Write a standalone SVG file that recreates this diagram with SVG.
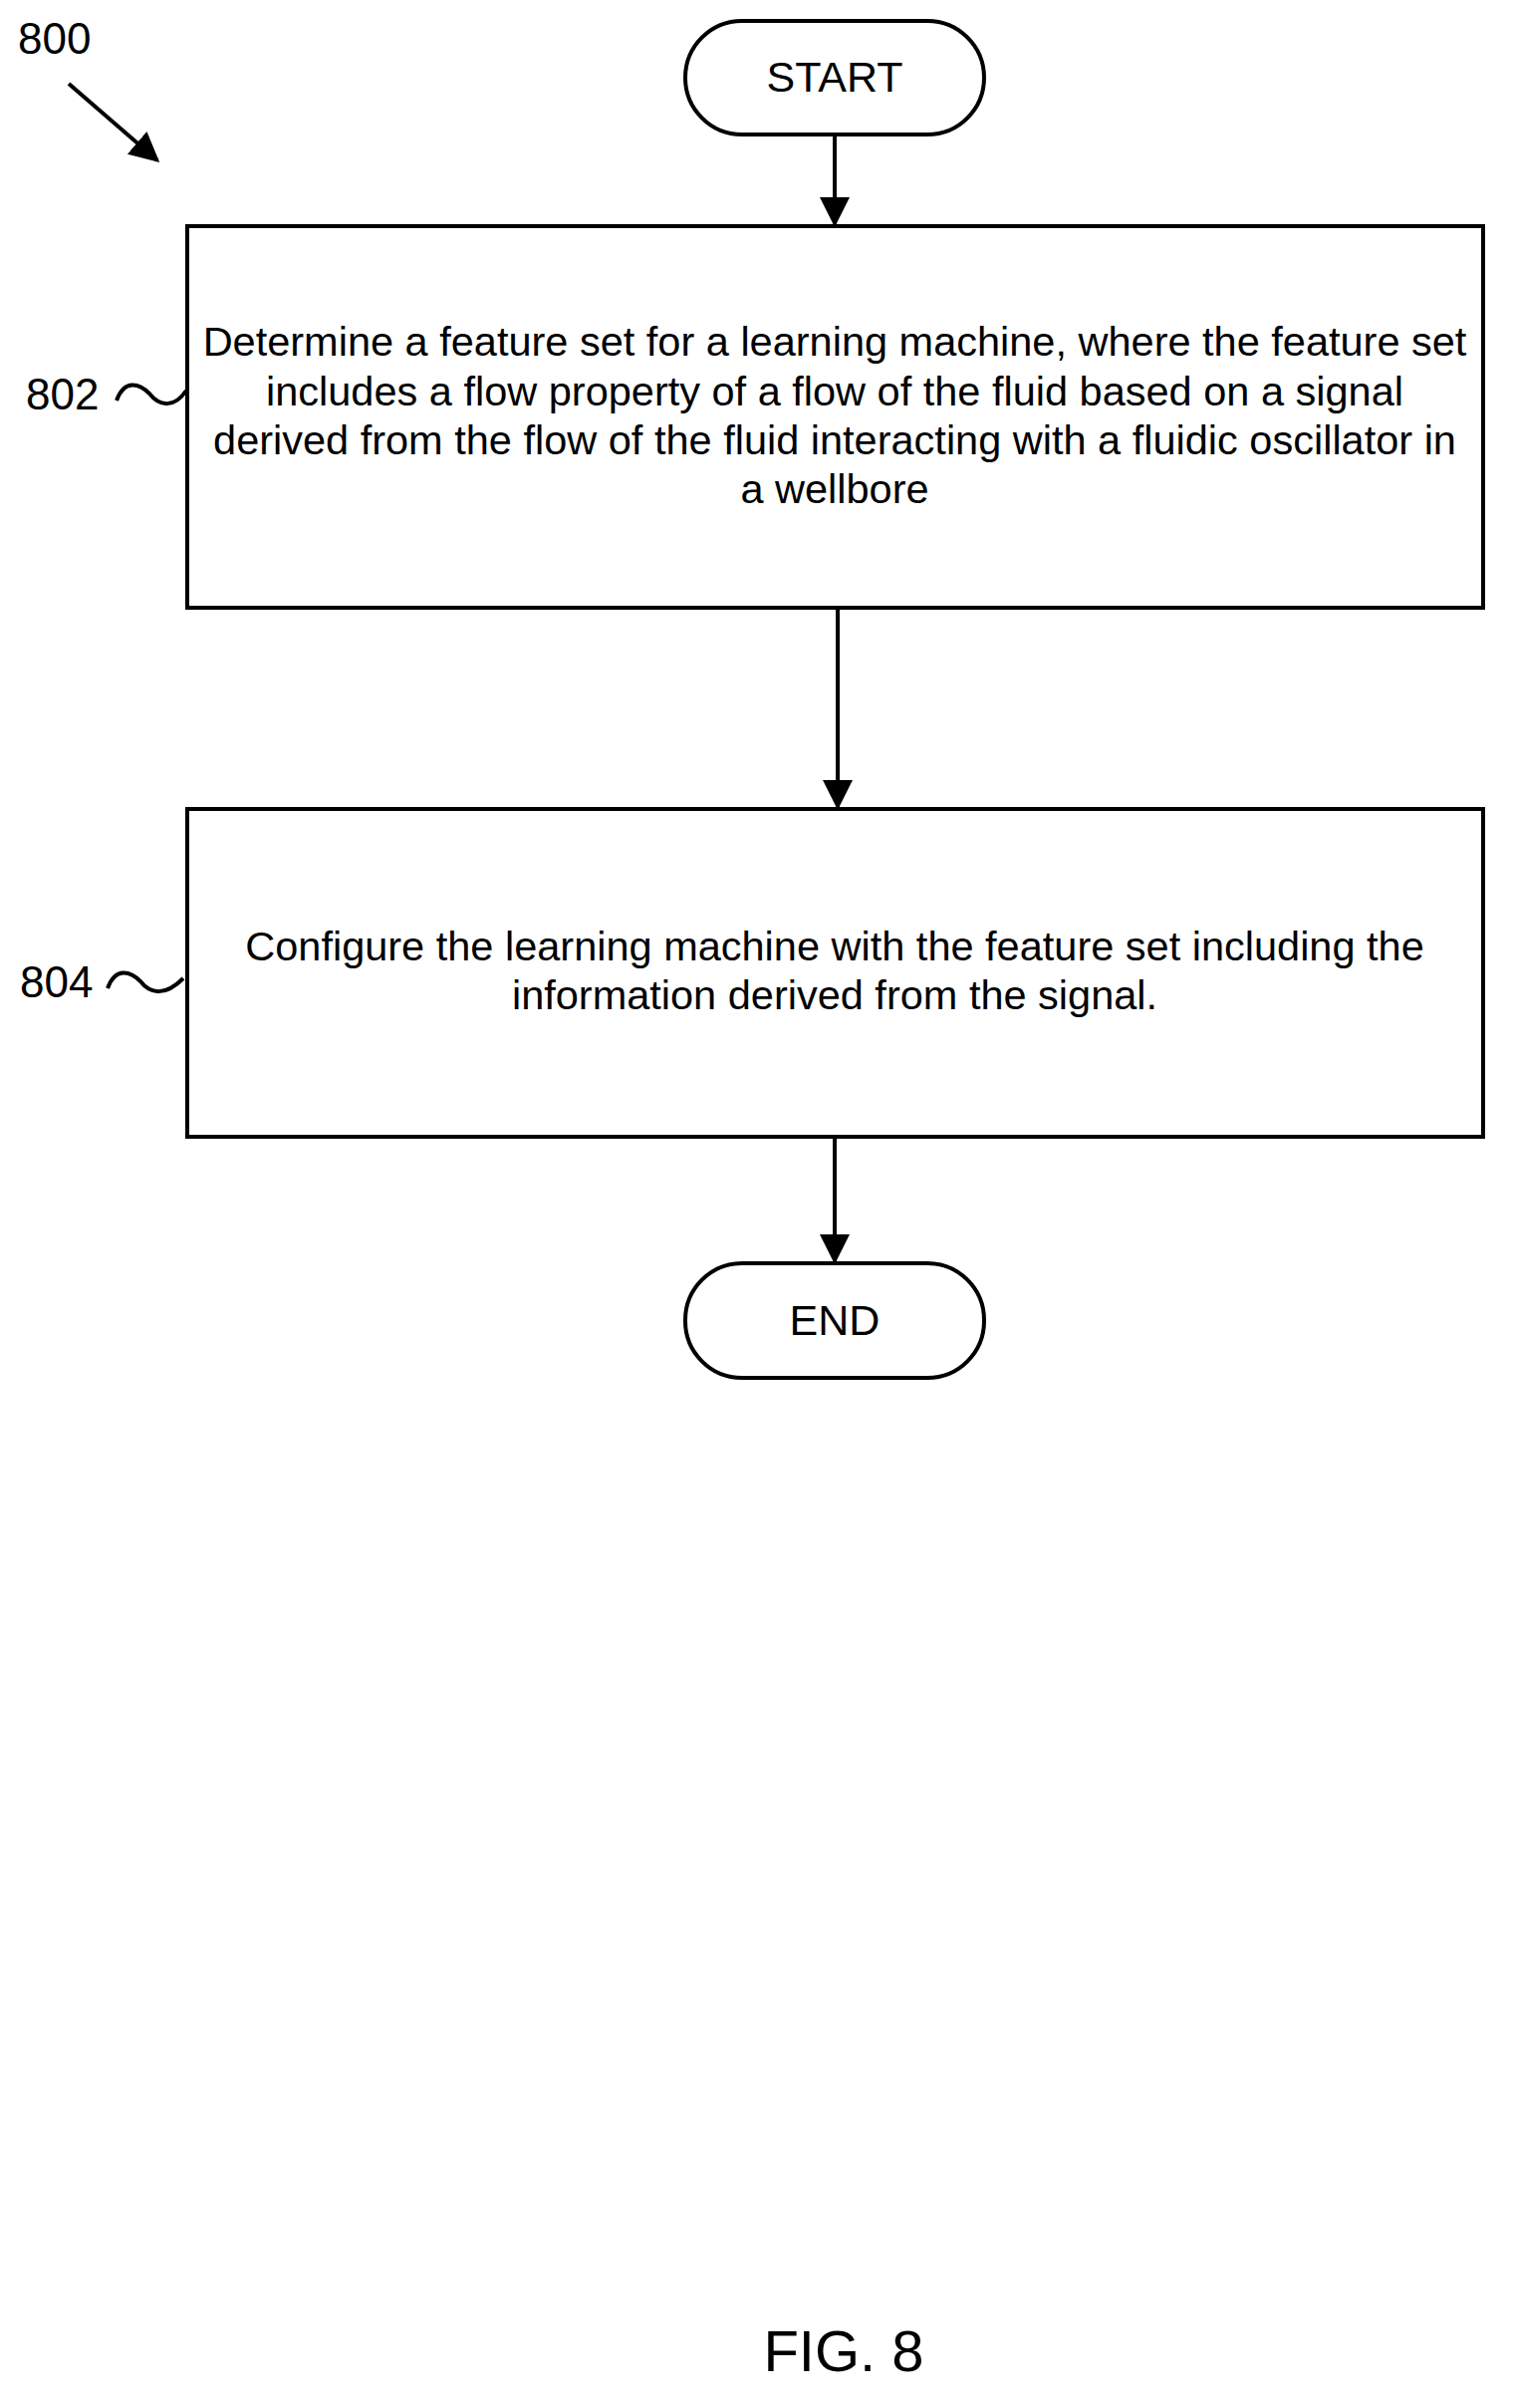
<svg xmlns="http://www.w3.org/2000/svg" width="1521" height="2417" viewBox="0 0 1521 2417">
<style>
.b{fill:#fff;stroke:#000;stroke-width:4}
.t{font-family:"Liberation Sans",Arial,sans-serif;font-size:41.5px;text-anchor:middle;fill:#000}
.l{font-family:"Liberation Sans",Arial,sans-serif;font-size:44px;fill:#000}
.c{stroke:#000;stroke-width:4;fill:none}
</style>
<defs><marker id="ah" viewBox="0 0 10 10" refX="9" refY="5" markerWidth="30" markerHeight="30" markerUnits="userSpaceOnUse" orient="auto"><path d="M0,0L10,5L0,10z" fill="#000"/></marker></defs>
<g id="start"><rect class="b" x="688" y="21" width="300" height="114" rx="57"/><text class="t" x="838" y="92" style="font-size:43px">START</text></g>
<g id="n802"><rect class="b" x="188" y="227" width="1301" height="383"/>
<text class="t" x="838" y="357">Determine a feature set for a learning machine, where the feature set</text>
<text class="t" x="838" y="407">includes a flow property of a flow of the fluid based on a signal</text>
<text class="t" x="838" y="456">derived from the flow of the fluid interacting with a fluidic oscillator in</text>
<text class="t" x="838" y="505">a wellbore</text></g>
<g id="n804"><rect class="b" x="188" y="812" width="1301" height="329"/>
<text class="t" x="838" y="964">Configure the learning machine with the feature set including the</text>
<text class="t" x="838" y="1013">information derived from the signal.</text></g>
<g id="end"><rect class="b" x="688" y="1268" width="300" height="115" rx="57"/><text class="t" x="838" y="1340" style="font-size:43px">END</text></g>
<g id="labels">
<text class="l" x="18" y="54">800</text>
<text class="l" x="26" y="411">802</text>
<text class="l" x="20" y="1001">804</text>
<text class="l" x="847" y="2380" text-anchor="middle" style="font-size:58px">FIG. 8</text>
</g>
<g id="connectors">
<line class="c" x1="838" y1="135" x2="838" y2="225" marker-end="url(#ah)"/>
<line class="c" x1="841" y1="610" x2="841" y2="810" marker-end="url(#ah)"/>
<line class="c" x1="838" y1="1141" x2="838" y2="1266" marker-end="url(#ah)"/>
<line class="c" x1="69" y1="84" x2="158" y2="161" marker-end="url(#ah)"/>
<path class="c" d="M117,402 C125,380 140,385 150,395 C160,408 175,410 187,392"/>
<path class="c" d="M108,992 C116,970 131,975 141,985 C151,998 166,1000 184,982"/>
</g>
</svg>
